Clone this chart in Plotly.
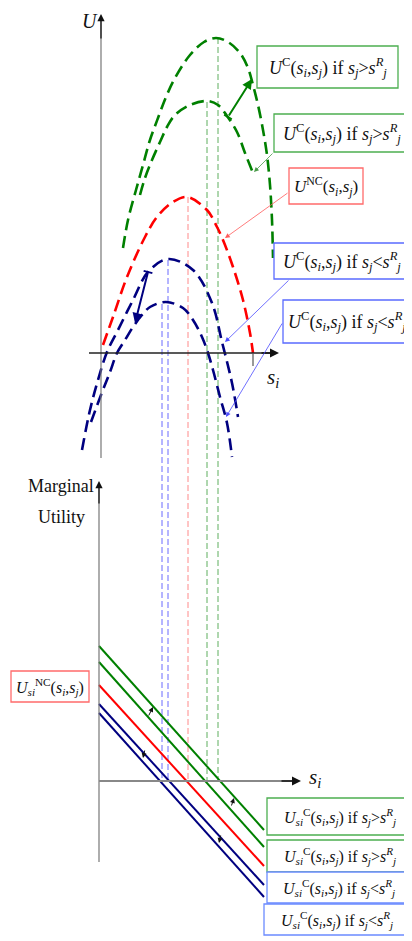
import math
import plotly.graph_objects as go

# ---------------- data (picture units: x to the right, y downward) ----------------
# Top panel: utility curves
green_hi_x = [123, 128, 136, 143, 150, 158, 166, 175, 190, 204, 216, 228, 240, 248, 253, 258, 263, 267, 270, 272, 273]
green_hi_y = [248, 220, 190, 165, 140, 118, 97, 78, 55, 42, 38, 42, 53, 68, 85, 105, 130, 155, 185, 220, 258]

green_lo_x = [140, 145, 152, 160, 167, 175, 190, 207, 218, 227, 237, 245, 253]
green_lo_y = [195, 178, 160, 142, 127, 115, 105, 101, 105, 116, 132, 153, 173]

red_nc_x = [103, 113, 127, 145, 157, 173, 187, 207, 217, 223, 233, 243, 250, 253]
red_nc_y = [345, 317, 277, 237, 217, 202, 197, 210, 227, 240, 267, 300, 333, 353]

blue_hi_x = [82, 90, 98, 107, 118, 133, 148, 168, 193, 212, 222, 232, 238]
blue_hi_y = [450, 410, 380, 352, 330, 300, 272, 259, 270, 303, 342, 383, 417]

blue_lo_x = [91, 101, 110, 117, 125, 133, 142, 150, 166, 183, 193, 202, 208, 213, 220, 227, 232]
blue_lo_y = [422, 395, 372, 353, 340, 327, 315, 307, 302, 308, 320, 337, 353, 370, 397, 423, 457]

# Bottom panel: marginal utility lines (value at left end x=99 and right end x=264)
mu_x = [99, 264]
mu_green_hi = [646, 830]
mu_green_lo = [662, 847]
mu_red = [685, 866]
mu_blue_hi = [704, 885]
mu_blue_lo = [713, 897]

# Optimal s_i (vertical guides): x, top of the guide
opt_x = [162, 168, 188, 207, 218]
opt_top = [304, 260, 197, 102, 38]
opt_colors = ["#6b6bff", "#6b6bff", "#ff8a8a", "#5fae5f", "#5fae5f"]
zero_line = 781

# Labels
lab_top_green = ("<i>U</i><sup>C</sup>(<i>s</i><sub><i>i</i></sub>,<i>s</i><sub><i>j</i></sub>) if "
                 "<i>s</i><sub><i>j</i></sub>&gt;<i>s</i><sup><i>R</i></sup><sub><i>j</i></sub>")
lab_top_blue = ("<i>U</i><sup>C</sup>(<i>s</i><sub><i>i</i></sub>,<i>s</i><sub><i>j</i></sub>) if "
                "<i>s</i><sub><i>j</i></sub>&lt;<i>s</i><sup><i>R</i></sup><sub><i>j</i></sub>")
lab_top_red = "<i>U</i><sup>NC</sup>(<i>s</i><sub><i>i</i></sub>,<i>s</i><sub><i>j</i></sub>)"
lab_bot_green = ("<i>U</i><sub><i>si</i></sub><sup>C</sup>(<i>s</i><sub><i>i</i></sub>,<i>s</i><sub><i>j</i></sub>) if "
                 "<i>s</i><sub><i>j</i></sub>&gt;<i>s</i><sup><i>R</i></sup><sub><i>j</i></sub>")
lab_bot_blue = ("<i>U</i><sub><i>si</i></sub><sup>C</sup>(<i>s</i><sub><i>i</i></sub>,<i>s</i><sub><i>j</i></sub>) if "
                "<i>s</i><sub><i>j</i></sub>&lt;<i>s</i><sup><i>R</i></sup><sub><i>j</i></sub>")
lab_bot_red = "<i>U</i><sub><i>si</i></sub><sup>NC</sup>(<i>s</i><sub><i>i</i></sub>,<i>s</i><sub><i>j</i></sub>)"

GREEN = "#008000"
RED = "#ff0000"
BLUE = "#000080"
FONT = "Liberation Serif, Times New Roman, serif"

# page body has an 8px margin: shift the visible range so picture units line up with the window
PAGE_OFFSET = 8

fig = go.Figure()

# vertical guides
for x, top, c in zip(opt_x, opt_top, opt_colors):
    fig.add_trace(go.Scatter(x=[x, x], y=[top, zero_line], mode="lines",
                             line=dict(color=c, width=1, dash="6px,3px"), hoverinfo="skip"))

# top curves
dash_curve = "12px,6px"
for xs, ys, c in [(green_hi_x, green_hi_y, GREEN), (green_lo_x, green_lo_y, GREEN),
                  (red_nc_x, red_nc_y, RED), (blue_hi_x, blue_hi_y, BLUE), (blue_lo_x, blue_lo_y, BLUE)]:
    fig.add_trace(go.Scatter(x=xs, y=ys, mode="lines",
                             line=dict(color=c, width=2.6, dash=dash_curve, shape="spline", smoothing=1.0),
                             hoverinfo="skip"))

# bottom lines
for ys, c in [(mu_green_hi, GREEN), (mu_green_lo, GREEN), (mu_red, RED), (mu_blue_hi, BLUE), (mu_blue_lo, BLUE)]:
    fig.add_trace(go.Scatter(x=mu_x, y=ys, mode="lines", line=dict(color=c, width=2), hoverinfo="skip"))

# axis lines
axis_lines = [
    ((101, 458), (101, 20), "#777777", 1.2),
    ((89, 353), (272, 353), "#222222", 1.5),
    ((99, 862), (99, 487), "#777777", 1.2),
    ((99, 781), (294, 781), "#888888", 2.2),
    ((253, 353), (253, 366), "#555555", 1.2),
]
for (x0, y0), (x1, y1), c, w in axis_lines:
    fig.add_trace(go.Scatter(x=[x0, x1], y=[y0, y1], mode="lines", line=dict(color=c, width=w), hoverinfo="skip"))

annotations = []


def arrow(tail, head, color, width=1.0, head_style=2, size=1.0, bar=False):
    annotations.append(dict(x=head[0], y=head[1], ax=tail[0], ay=tail[1], xref="x", yref="y",
                            axref="x", ayref="y", text="", showarrow=True, arrowhead=head_style,
                            arrowsize=size, arrowwidth=width, arrowcolor=color))
    if bar:
        dx, dy = head[0] - tail[0], head[1] - tail[1]
        n = math.hypot(dx, dy)
        px, py = -dy / n * 4.5, dx / n * 4.5
        fig.add_trace(go.Scatter(x=[tail[0] - px, tail[0] + px], y=[tail[1] - py, tail[1] + py],
                                 mode="lines", line=dict(color=color, width=width), hoverinfo="skip"))


# axis arrow heads
arrow((101, 40), (101, 14), "#111111", 1.2, 2, 1.2)
arrow((260, 353), (279, 353), "#111111", 1.5, 2, 1.2)
arrow((99, 505), (99, 481), "#111111", 1.2, 2, 1.2)
arrow((280, 781), (301, 781), "#111111", 1.5, 2, 1.2)

# shift arrows
arrow((228, 117), (252, 79), GREEN, 2, 2, 1.0, bar=True)
arrow((148, 272), (135, 323), BLUE, 2, 2, 1.0, bar=True)

# pointer arrows from labels
arrow((274, 152), (254, 172), "#4a9a4a", 0.8, 2, 1.2)
arrow((289, 192), (225, 238), "#ff5a5a", 0.8, 2, 1.2)
arrow((290, 279), (225, 342), "#4d4dff", 0.8, 2, 1.2)
arrow((283, 322), (226, 417), "#4d4dff", 0.8, 2, 1.2)

# tiny shift arrows in the bottom panel
arrow((148, 717), (153, 707), "#111111", 1, 2, 1.0)
arrow((231, 807), (234, 798), "#111111", 1, 2, 1.0)
arrow((145, 749), (143, 758), "#111111", 1, 2, 1.0)
arrow((221, 834), (219, 843), "#111111", 1, 2, 1.0)

# label boxes: (x0, y0, x1, y1, border color, text, font size)
boxes = [
    (257, 46, 398, 88, "#4caf50", lab_top_green, 18),
    (274, 114, 410, 152, "#4caf50", lab_top_green, 18),
    (289, 168, 363, 204, "#ff6b6b", lab_top_red, 17),
    (274, 243, 410, 279, "#5a6bff", lab_top_blue, 18),
    (283, 300, 410, 343, "#5a6bff", lab_top_blue, 18),
    (11, 671, 89, 702, "#ff6b6b", lab_bot_red, 16),
    (267, 798, 412, 835, "#4caf50", lab_bot_green, 16),
    (267, 840, 412, 872, "#4caf50", lab_bot_green, 16),
    (267, 872, 411, 903, "#6b8bff", lab_bot_blue, 16),
    (264, 904, 410, 935, "#6b8bff", lab_bot_blue, 16),
]
shapes = []
for x0, y0, x1, y1, c, txt, fs in boxes:
    shapes.append(dict(type="rect", xref="x", yref="y", x0=x0, y0=y0, x1=x1, y1=y1,
                       line=dict(color=c, width=1.3), fillcolor="white", layer="above"))
    annotations.append(dict(x=(x0 + x1) / 2, y=(y0 + y1) / 2, xref="x", yref="y", text=txt,
                            showarrow=False, font=dict(family=FONT, size=fs, color="#111111"),
                            xanchor="center", yanchor="middle"))

# axis titles
annotations += [
    dict(x=90, y=21, xref="x", yref="y", text="<i>U</i>", showarrow=False,
         font=dict(family=FONT, size=20, color="#111111")),
    dict(x=273, y=378, xref="x", yref="y", text="<i>s</i><sub><i>i</i></sub>", showarrow=False,
         font=dict(family=FONT, size=21, color="#111111")),
    dict(x=315, y=778, xref="x", yref="y", text="<i>s</i><sub><i>i</i></sub>", showarrow=False,
         font=dict(family=FONT, size=21, color="#111111")),
    dict(x=61, y=486, xref="x", yref="y", text="Marginal", showarrow=False,
         font=dict(family=FONT, size=18, color="#111111")),
    dict(x=61, y=517, xref="x", yref="y", text="Utility", showarrow=False,
         font=dict(family=FONT, size=18, color="#111111")),
]

fig.update_layout(
    width=412, height=941,
    margin=dict(l=0, r=0, t=0, b=0),
    paper_bgcolor="white", plot_bgcolor="white",
    showlegend=False,
    xaxis=dict(range=[PAGE_OFFSET, 412 + PAGE_OFFSET], visible=False, fixedrange=True),
    yaxis=dict(range=[941 + PAGE_OFFSET, PAGE_OFFSET], visible=False, fixedrange=True),
    shapes=shapes,
    annotations=annotations,
)

fig.write_html("out.html")
